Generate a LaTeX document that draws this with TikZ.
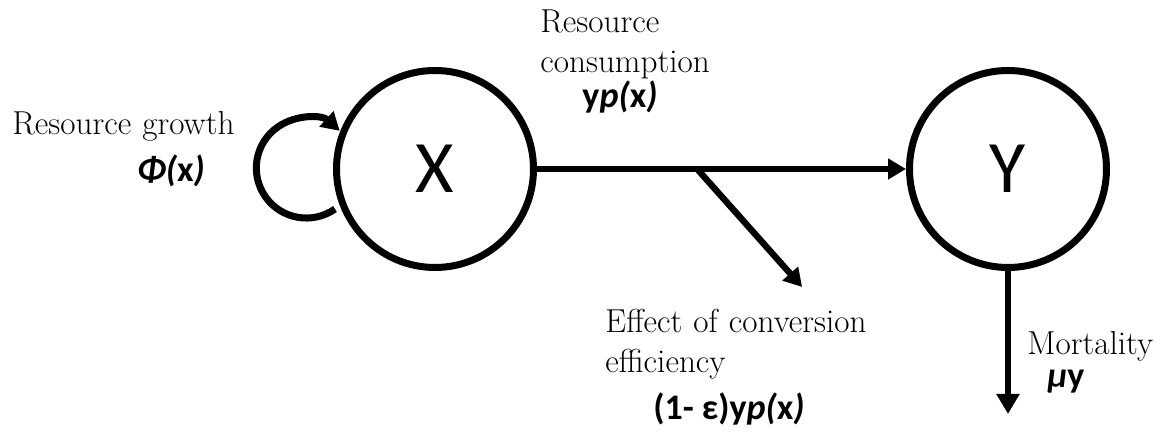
\documentclass[tikz,border=0pt]{standalone}
\usepackage{fontspec}
\newfontfamily\calib{Carlito}
\usetikzlibrary{arrows.meta,positioning,calc}

\begin{document}
\begin{tikzpicture}[
  x=0.5pt, y=0.5pt,
  pool/.style={draw, circle, line width=3.5pt, minimum size=98.5pt, inner sep=0pt, font=\calib\fontsize{37}{40}\selectfont},
  lbl/.style={font=\fontsize{16.6}{20}\selectfont, align=left, anchor=base west, inner sep=0pt, text width=150pt},
  rate/.style={font=\calib\bfseries\fontsize{18}{20}\selectfont, anchor=base, inner sep=0pt},
  flow/.style={line width=3.2pt, -{Triangle[length=9pt,width=10pt]}}
]
\useasboundingbox (0,0) rectangle (1164,432);

\node[pool] (X) at (435,263) {X};
\node[pool] (Y) at (1008,263) {Y};

\coordinate (split) at ($(X.east)!0.434!(Y.west)$);
\coordinate (lost) at ([shift={(105,-118)}]split);
\coordinate (dead) at ([shift={(0,-143)}]Y.south);

\draw[flow] (X.east) -- (Y.west);
\draw[flow] (split) -- (lost);
\draw[flow, -{Triangle[length=10pt,width=11pt]}] (Y.south) -- (dead);
\draw[flow, line width=3.5pt] ([shift={(2,-40)}]X.west) arc[start angle=-55, end angle=-312, radius=50];

% labels
\node[lbl] (growth) at (12,297) {Resource growth};
\node[rate] (phi) at (171,250) {\textit{Φ(}x\textit{)}};
\node[lbl] (cons) at (540,399) {Resource\\consumption};
\node[rate] (ypx) at (620,324) {y\textit{p(}x\textit{)}};
\node[lbl] (eff) at (605,99) {Effect of conversion\\efficiency};
\node[rate] (loss) at (729,12) {(1- ε)y\textit{p(}x\textit{)}};
\node[lbl, text width=] (mort) at (1027,77) {Mortality};
\node[rate, anchor=base west] (muy) at (1047,44) {\textit{μ}y};
\end{tikzpicture}
\end{document}
